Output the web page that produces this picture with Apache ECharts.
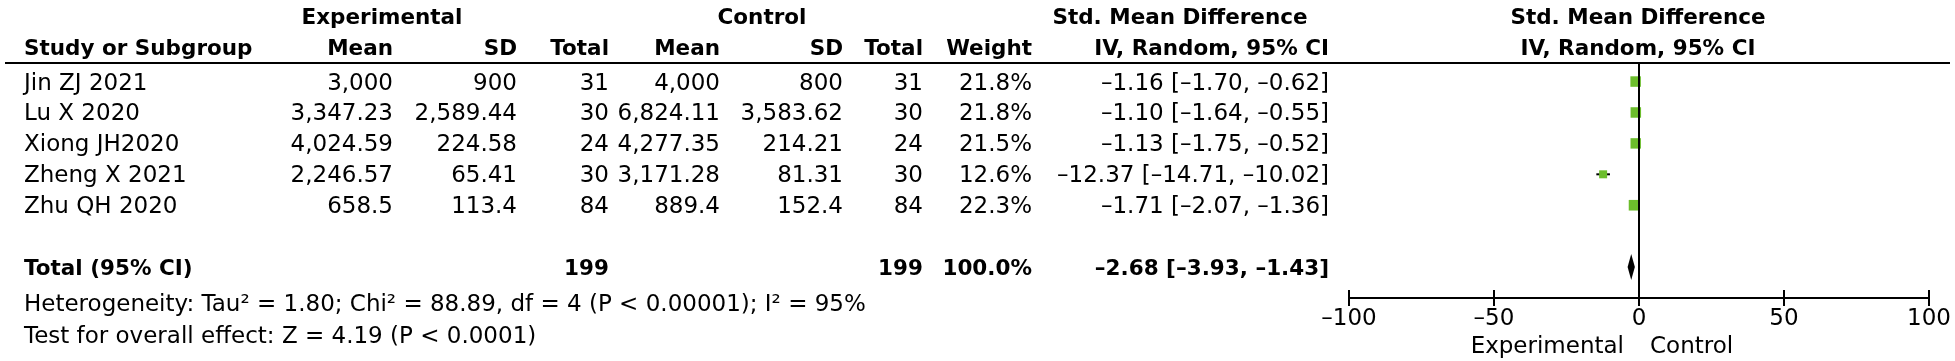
<!DOCTYPE html>
<html>
<head>
<meta charset="utf-8">
<script src="https://cdn.jsdelivr.net/npm/echarts@6/dist/echarts.min.js"></script>
<style>
html, body { margin: 0; padding: 0; background: #fff; }
#main { width: 1955px; height: 361px; }
</style>
</head>
<body>
<div id="main"></div>
<script>
var studies = ['Jin ZJ 2021', 'Lu X 2020', 'Xiong JH2020', 'Zheng X 2021', 'Zhu QH 2020'];
var expMean = ['3,000', '3,347.23', '4,024.59', '2,246.57', '658.5'];
var expSD = ['900', '2,589.44', '224.58', '65.41', '113.4'];
var expTotal = [31, 30, 24, 30, 84];
var ctlMean = ['4,000', '6,824.11', '4,277.35', '3,171.28', '889.4'];
var ctlSD = ['800', '3,583.62', '214.21', '81.31', '152.4'];
var ctlTotal = [31, 30, 24, 30, 84];
var weight = [21.8, 21.8, 21.5, 12.6, 22.3];
var smd = [-1.16, -1.10, -1.13, -12.37, -1.71];
var ciLow = [-1.70, -1.64, -1.75, -14.71, -2.07];
var ciHigh = [-0.62, -0.55, -0.52, -10.02, -1.36];
var totalExp = 199, totalCtl = 199, totalWeight = 100.0;
var pooled = [-2.68, -3.93, -1.43];
var heterogeneity = 'Heterogeneity: Tau\u00b2 = 1.80; Chi\u00b2 = 88.89, df = 4 (P < 0.00001); I\u00b2 = 95%';
var overall = 'Test for overall effect: Z = 4.19 (P < 0.0001)';
var axisMin = -100, axisMax = 100, axisStep = 50;
var totalRow = 6;

var FONT = 'DejaVu Sans';
var FS = 23, FSB = 21.5;
var DY = 2;
var GREEN = '#6cbd2c';

function dash(v) { return String(v).replace(/-/g, '\u2013'); }
function ciText(m, lo, hi) {
	return dash(m.toFixed(2)) + ' [' + dash(lo.toFixed(2)) + ', ' + dash(hi.toFixed(2)) + ']';
}

var chart = echarts.init(document.getElementById('main'));

var whiskers = studies.map(function(s, i) { return [ciLow[i], ciHigh[i], i]; });
var squares = studies.map(function(s, i) { return [smd[i], i, weight[i]]; });
var plotRect = { left: 1349, width: 580, top: 63, height: 235 };

var option = {
	animation: false,
	grid: [plotRect, plotRect],
	xAxis: [{
		type: 'value', min: axisMin, max: axisMax, interval: axisStep,
		splitLine: { show: false },
		axisLine: { show: true, onZero: false, lineStyle: { color: '#000', width: 2 } },
		axisTick: { show: true, length: 8, lineStyle: { color: '#000', width: 2 } },
		axisLabel: { margin: 10, color: '#000', fontFamily: FONT, fontSize: FS,
			formatter: function(v) { return dash(v); } }
	}, {
		gridIndex: 1, type: 'value', min: axisMin, max: axisMax, interval: axisStep, position: 'bottom',
		splitLine: { show: false }, axisLine: { show: false, onZero: false }, axisLabel: { show: false },
		axisTick: { show: true, inside: true, length: 8, lineStyle: { color: '#000', width: 2 } }
	}],
	yAxis: [
		{ type: 'value', inverse: true, min: -0.6, max: 7, show: false },
		{ gridIndex: 1, type: 'value', inverse: true, min: -0.6, max: 7, show: false }
	],
	series: [{
		type: 'custom',
		data: whiskers,
		z: 2,
		renderItem: function(params, api) {
			var a = api.coord([api.value(0), api.value(2)]);
			var b = api.coord([api.value(1), api.value(2)]);
			return { type: 'line', shape: { x1: a[0], y1: a[1], x2: b[0], y2: b[1] },
				style: { stroke: '#000', lineWidth: 2 } };
		}
	}, {
		type: 'scatter',
		data: squares,
		z: 3,
		symbol: 'rect',
		symbolSize: function(d) { return 2.25 * Math.sqrt(d[2]); },
		itemStyle: { color: GREEN, opacity: 1 },
		markLine: {
			silent: true, symbol: 'none', label: { show: false },
			lineStyle: { color: '#000', width: 2, type: 'solid' },
			data: [{ xAxis: 0 }]
		}
	}, {
		type: 'custom',
		data: [[pooled[0], pooled[1], pooled[2], totalRow]],
		z: 3,
		renderItem: function(params, api) {
			var y = api.value(3);
			var c = api.coord([api.value(0), y]);
			var l = api.coord([api.value(1), y]);
			var r = api.coord([api.value(2), y]);
			return { type: 'polygon',
				shape: { points: [[l[0], c[1]], [c[0], c[1] - 13], [r[0], c[1]], [c[0], c[1] + 13]] },
				style: { fill: '#000' } };
		}
	}]
};
chart.setOption(option);

function rowY(i) { return chart.convertToPixel({ yAxisIndex: 0 }, i); }

var texts = [];
function txt(x, y, s, align, bold) {
	texts.push({ type: 'text', x: x, y: y + DY, silent: true,
		style: { text: s, fill: '#000', font: (bold ? 'bold ' + FSB : FS) + 'px "' + FONT + '"',
			textAlign: align || 'left', textVerticalAlign: 'middle' } });
}

var col = { study: 24, expMean: 393, expSD: 517, expTotal: 609, ctlMean: 720, ctlSD: 843,
	ctlTotal: 923, weight: 1032, ci: 1329, plot: 1638 };

txt(382, 16, 'Experimental', 'center', true);
txt(762, 16, 'Control', 'center', true);
txt(1180, 16, 'Std. Mean Difference', 'center', true);
txt(col.plot, 16, 'Std. Mean Difference', 'center', true);
txt(col.study, 47, 'Study or Subgroup', 'left', true);
txt(col.expMean, 47, 'Mean', 'right', true);
txt(col.expSD, 47, 'SD', 'right', true);
txt(col.expTotal, 47, 'Total', 'right', true);
txt(col.ctlMean, 47, 'Mean', 'right', true);
txt(col.ctlSD, 47, 'SD', 'right', true);
txt(col.ctlTotal, 47, 'Total', 'right', true);
txt(col.weight, 47, 'Weight', 'right', true);
txt(col.ci, 47, 'IV, Random, 95% CI', 'right', true);
txt(col.plot, 47, 'IV, Random, 95% CI', 'center', true);

studies.forEach(function(s, i) {
	var y = rowY(i);
	txt(col.study, y, s, 'left');
	txt(col.expMean, y, expMean[i], 'right');
	txt(col.expSD, y, expSD[i], 'right');
	txt(col.expTotal, y, String(expTotal[i]), 'right');
	txt(col.ctlMean, y, ctlMean[i], 'right');
	txt(col.ctlSD, y, ctlSD[i], 'right');
	txt(col.ctlTotal, y, String(ctlTotal[i]), 'right');
	txt(col.weight, y, weight[i].toFixed(1) + '%', 'right');
	txt(col.ci, y, ciText(smd[i], ciLow[i], ciHigh[i]), 'right');
});

var ty = rowY(totalRow);
txt(col.study, ty, 'Total (95% CI)', 'left', true);
txt(col.expTotal, ty, String(totalExp), 'right', true);
txt(col.ctlTotal, ty, String(totalCtl), 'right', true);
txt(col.weight, ty, totalWeight.toFixed(1) + '%', 'right', true);
txt(col.ci, ty, ciText(pooled[0], pooled[1], pooled[2]), 'right', true);
txt(col.study, 303, heterogeneity, 'left');
txt(col.study, 335, overall, 'left');
txt(1624, 345, 'Experimental', 'right');
txt(1650, 345, 'Control', 'left');

chart.setOption({
	graphic: [{ type: 'line', silent: true, shape: { x1: 5, y1: 63, x2: 1950, y2: 63 },
		style: { stroke: '#000', lineWidth: 2 } }].concat(texts)
});
</script>
</body>
</html>
